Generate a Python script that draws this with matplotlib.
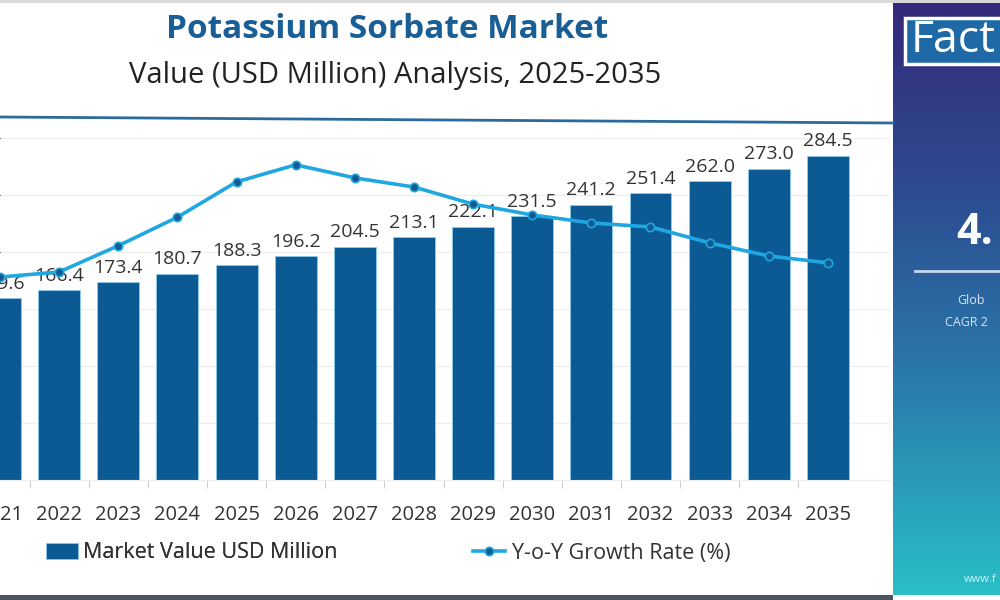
import numpy as np
import matplotlib
matplotlib.use("Agg")
import matplotlib.pyplot as plt
from matplotlib.lines import Line2D
from matplotlib.patches import Rectangle
from matplotlib.colors import LinearSegmentedColormap

plt.rcParams['font.family'] = ['Open Sans', 'DejaVu Sans']

years = ["2021", "2022", "2023", "2024", "2025", "2026", "2027", "2028",
         "2029", "2030", "2031", "2032", "2033", "2034", "2035"]
market_value = [159.6, 166.4, 173.4, 180.7, 188.3, 196.2, 204.5, 213.1,
                222.1, 231.5, 241.2, 251.4, 262.0, 273.0, 284.5]
yoy_growth = [3.56, 3.65, 4.11, 4.61, 5.23, 5.53, 5.30, 5.14,
              4.84, 4.65, 4.51, 4.44, 4.16, 3.93, 3.81]

title = "Potassium Sorbate Market"
subtitle = "Value (USD Million) Analysis, 2025-2035"
bar_label = "Market Value USD Million"
line_label = "Y-o-Y Growth Rate (%)"

BAR = "#0b5a93"
LINE = "#1ea7e1"
MARK = "#14598f"
TITLE = "#1a5e96"
TXT = "#333333"

W, H = 1000, 600
fig = plt.figure(figsize=(10, 6), dpi=100)
fig.patch.set_facecolor("white")

def fx(px):
    return px / W

def fy(py):
    return 1 - py / H

# main axes
ax = fig.add_axes([fx(0), fy(480), fx(890), (480 - 138) / H])
x = np.arange(len(years))
bars = ax.bar(x, market_value, width=0.71, color=BAR, edgecolor="#8fcdee",
              linewidth=0.6, zorder=2, label=bar_label)
ax.set_ylim(0, 300)
ax.set_xlim(0.02, 15.05)
ax.set_yticks(np.arange(0, 301, 50))
ax.yaxis.grid(True, color="#eeeeee", linewidth=0.9, zorder=0)
ax.tick_params(axis="y", left=False, labelleft=False)
for s in ["left", "right", "top"]:
    ax.spines[s].set_visible(False)
ax.spines["bottom"].set_color("#eeeeee")
ax.set_xticks(x)
ax.set_xticklabels(years, fontsize=14.5, color=TXT)
ax.tick_params(axis="x", length=0, pad=18)
ax.set_xticks(x[:-1] + 0.5, minor=True)
ax.tick_params(axis="x", which="minor", length=6, color="#cfcfcf", width=0.8)

for xi, v in zip(x, market_value):
    ax.annotate(f"{v:.1f}", (xi, v), xytext=(0, 4), textcoords="offset points",
                ha="center", va="bottom", fontsize=14, color=TXT, zorder=5)

ax2 = ax.twinx()
ax2.set_ylim(0, 6)
ax2.axis("off")
ln, = ax2.plot(x, yoy_growth, color=LINE, linewidth=2.6, marker="o",
               markersize=6, markerfacecolor=MARK, markeredgecolor=LINE,
               markeredgewidth=1.2, zorder=4, label=line_label)

# titles
fig.text(fx(387), fy(30), title, ha="center", va="center", fontsize=24,
         fontweight="bold", color=TITLE)
fig.text(fx(395), fy(75), subtitle, ha="center", va="center", fontsize=21,
         color="#222222")

# decorative separator line
fig.add_artist(Line2D([fx(0), fx(893)], [fy(117), fy(123)], color="#2b6a9c",
                      linewidth=2.0))

# legends
lg1 = fig.legend(handles=[bars], labels=[bar_label], loc="center left",
                 bbox_to_anchor=(fx(46), fy(553)), frameon=False, fontsize=15.5,
                 handlelength=1.5, handleheight=0.75, handletextpad=0.2,
                 borderpad=0, borderaxespad=0, labelcolor=TXT)
lg2 = fig.legend(handles=[ln], labels=[line_label], loc="center left",
                 bbox_to_anchor=(fx(473), fy(553)), frameon=False, fontsize=15.5,
                 handlelength=1.5, handletextpad=0.3, borderpad=0,
                 borderaxespad=0, labelcolor=TXT)
fig.add_artist(lg1)

# right panel with gradient
pan = fig.add_axes([fx(893), fy(595), fx(107), 595 / H])
grad = np.linspace(0, 1, 256)[:, None]
cmap = LinearSegmentedColormap.from_list("p", ["#35297a", "#2c4d92", "#2a7fae", "#29bfc6"])
pan.imshow(grad, aspect="auto", cmap=cmap, extent=[0, 1, 1, 0])
pan.set_xlim(0, 1)
pan.set_ylim(1, 0)
pan.axis("off")

# Fact box
fig.add_artist(Rectangle((fx(905), fy(64)), fx(100), 46 / H, facecolor="#1f6aa6",
                         edgecolor="white", linewidth=2.5))
fig.text(fx(911), fy(41), "Fact", ha="left", va="center", fontsize=32,
         color="white")
fig.text(fx(956), fy(232), "4.", ha="left", va="center", fontsize=31,
         fontweight="bold", color="white")
fig.add_artist(Line2D([fx(915), fx(1000)], [fy(271), fy(271)], color="#c9d6ea",
                      linewidth=2))
fig.text(fx(957), fy(300), "Glob", ha="left", va="center", fontsize=9,
         color="#dde4f0")
fig.text(fx(945), fy(322), "CAGR 2", ha="left", va="center", fontsize=9,
         color="#dde4f0")
fig.text(fx(964), fy(579), "www.f", ha="left", va="center", fontsize=8,
         color="#d8f0f4")

# top and bottom strips
fig.add_artist(Rectangle((0, fy(3)), 1, 3 / H, facecolor="#d9d9d9",
                         edgecolor="none"))
fig.add_artist(Rectangle((0, 0), fx(893), 5 / H, facecolor="#4a5562",
                         edgecolor="none"))

fig.savefig("out.png", dpi=100)
